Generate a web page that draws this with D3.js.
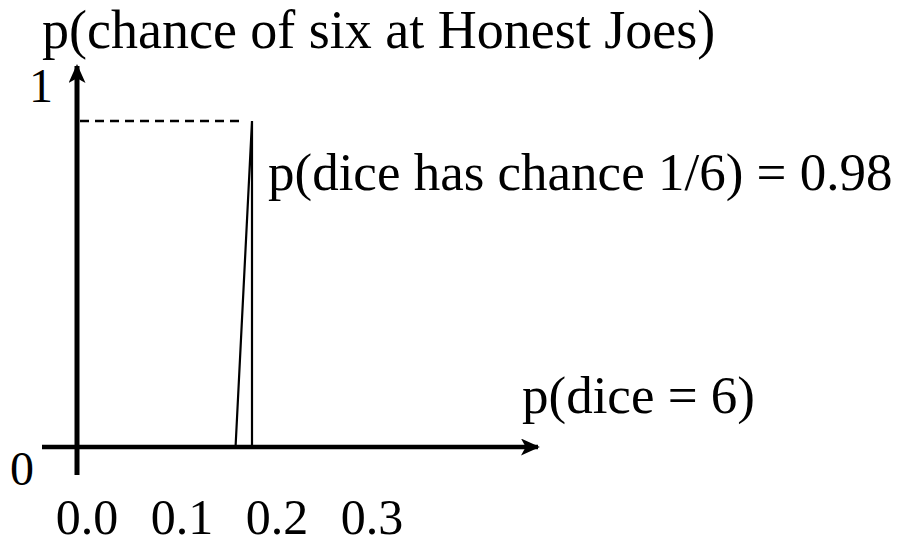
<!DOCTYPE html>
<html>
<head>
<meta charset="utf-8">
<script src="https://cdn.jsdelivr.net/npm/d3@7"></script>
<style>
  body { margin: 0; background: #fff; }
  text { font-family: "Liberation Serif", "Times New Roman", serif; fill: #000; }
</style>
</head>
<body>
<div id="chart"></div>
<script>
// distribution of the dice's chance of six: a spike at 1/6
const spikeX = [0.151, 1 / 6, 1 / 6];
const spikeY = [0, 0.98, 0];
const levelValue = 0.98;
const levelEnd = 0.16;
const tickLabels = ["0.0", "0.1", "0.2", "0.3"];
const tickValues = [0, 0.1, 0.2, 0.3];

const width = 899, height = 547;

var svg = d3.select("#chart")
    .append("svg")
    .attr("width", width)
    .attr("height", height);

var x = d3.scaleLinear().domain([0, 1 / 6]).range([77, 252]);
var y = d3.scaleLinear().domain([0, 0.98]).range([447, 121]);
// the tick labels sit under the axis on their own spacing
var labelX = d3.scaleLinear().domain([0, 0.3]).range([87, 372]);

svg.append("defs").append("marker")
    .attr("id", "arrow")
    .attr("viewBox", "0 0 20 18")
    .attr("refX", 18)
    .attr("refY", 9)
    .attr("markerWidth", 20)
    .attr("markerHeight", 17)
    .attr("markerUnits", "userSpaceOnUse")
    .attr("orient", "auto")
    .append("path")
    .attr("d", "M0,0 L20,9 L0,18 L5,9 Z")
    .attr("fill", "#000");

// x axis
svg.append("line")
    .attr("x1", 42).attr("x2", 538)
    .attr("y1", y(0)).attr("y2", y(0))
    .attr("stroke", "#000")
    .attr("stroke-width", 4.5)
    .attr("marker-end", "url(#arrow)");

// y axis
svg.append("line")
    .attr("x1", x(0)).attr("x2", x(0))
    .attr("y1", 475).attr("y2", 66)
    .attr("stroke", "#000")
    .attr("stroke-width", 5)
    .attr("marker-end", "url(#arrow)");

// dashed level
svg.append("line")
    .attr("x1", x(0) + 3).attr("x2", x(levelEnd))
    .attr("y1", y(levelValue)).attr("y2", y(levelValue))
    .attr("stroke", "#000")
    .attr("stroke-width", 2.5)
    .attr("stroke-dasharray", "9,6");

var line = d3.line()
    .x(function (d) { return x(d[0]); })
    .y(function (d) { return y(d[1]); });

svg.append("path")
    .datum(d3.zip(spikeX, spikeY))
    .attr("d", line)
    .attr("fill", "none")
    .attr("stroke", "#000")
    .attr("stroke-width", 2.2);

svg.append("text")
    .attr("x", 42).attr("y", 48)
    .style("font-size", "54px")
    .text("p(chance of six at Honest Joes)");

svg.append("text")
    .attr("x", 268).attr("y", 190)
    .style("font-size", "53px")
    .text("p(dice has chance 1/6) = 0.98");

svg.append("text")
    .attr("x", 522).attr("y", 413)
    .style("font-size", "53px")
    .text("p(dice = 6)");

svg.append("text")
    .attr("x", 29).attr("y", 102)
    .style("font-size", "48px")
    .text("1");

svg.append("text")
    .attr("x", 10).attr("y", 485)
    .style("font-size", "48px")
    .text("0");

svg.selectAll(".tick-label")
    .data(tickValues)
    .enter()
    .append("text")
    .attr("class", "tick-label")
    .attr("x", function (d) { return labelX(d); })
    .attr("y", 534)
    .attr("text-anchor", "middle")
    .style("font-size", "50px")
    .text(function (d, i) { return tickLabels[i]; });
</script>
</body>
</html>
